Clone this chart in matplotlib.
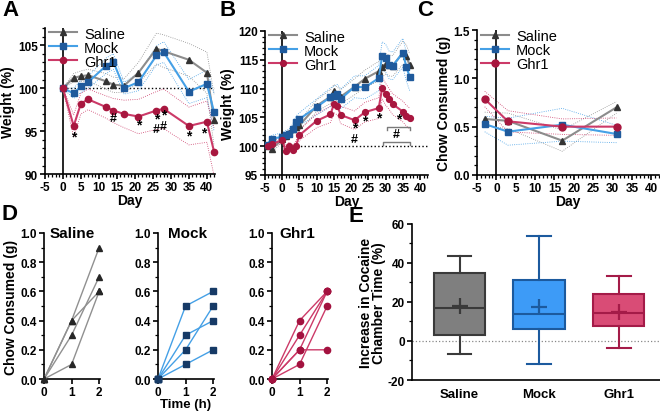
import numpy as np
import matplotlib.pyplot as plt
from matplotlib.ticker import MultipleLocator

plt.rcParams['font.family'] = ['Liberation Sans', 'DejaVu Sans']
plt.rcParams['font.weight'] = 'bold'
plt.rcParams['axes.labelweight'] = 'bold'
plt.rcParams['axes.unicode_minus'] = False
plt.rcParams['axes.linewidth'] = 1.2
plt.rcParams['xtick.major.width'] = 1.2
plt.rcParams['ytick.major.width'] = 1.2
plt.rcParams['xtick.minor.width'] = 0.9
plt.rcParams['ytick.minor.width'] = 0.9
plt.rcParams['xtick.major.size'] = 3.5
plt.rcParams['ytick.major.size'] = 3.5
plt.rcParams['xtick.minor.size'] = 2
plt.rcParams['ytick.minor.size'] = 2
plt.rcParams['xtick.labelsize'] = 8.5
plt.rcParams['ytick.labelsize'] = 8.5
plt.rcParams['xtick.major.pad'] = 1.5
plt.rcParams['ytick.major.pad'] = 1.5

# ======================================
# Data
# ======================================
groups = ['Saline', 'Mock', 'Ghr1']

# panel A: weight, first cohort
a_days = [0, 3, 5, 7, 12, 14, 17, 21, 26, 28, 35, 40, 42]
a_saline = [100, 101.2, 101.4, 101.5, 100.8, 100.4, 100.3, 101.8, 104.6, 104.3, 103.3, 101.8, 96.3]
a_mock = [100, 99.4, 100.2, 100.7, 102.6, 103.1, 100.0, 100.7, 103.8, 104.2, 99.6, 100.5, 97.2]
a_ghr1 = [100, 95.6, 98.2, 98.7, 97.8, 97.4, 97.0, 96.7, 97.4, 97.6, 95.6, 96.1, 92.6]
a_saline_sem = [0, 0.5, 0.6, 0.7, 0.9, 0.9, 0.8, 1.2, 1.8, 1.9, 1.9, 2.4, 3.0]
a_mock_sem = [0, 0.6, 0.7, 0.7, 0.9, 0.9, 0.7, 1.0, 1.1, 1.2, 1.4, 1.6, 2.2]
a_ghr1_sem = [0, 1.3, 1.2, 1.2, 1.3, 1.4, 1.6, 2.0, 2.2, 2.3, 2.2, 2.4, 2.8]
# significance marks: (day, weight, symbol)
a_marks = [(3, 94.4, '*'), (14, 96.5, '#'), (21, 95.8, '*'), (26, 96.5, '*'), (26, 95.3, '#'),
           (28, 96.9, '*'), (28, 95.6, '#'), (35, 94.5, '*'), (39, 94.9, '*')]

# panel B: weight, second cohort
b_days = [-4, -3, 0, 1, 2, 3, 4, 5, 10, 14, 15, 16, 17, 21, 24, 28, 29, 30, 31, 32, 35, 36, 37]
b_saline = [100.0, 99.5, 101.2, 101.8, 102.3, 102.9, 103.4, 103.6, 107.0, 108.6, 109.5, 109.0, 108.6,
            110.3, 111.7, 113.0, 113.8, 114.3, 114.0, 113.9, 116.2, 115.6, 114.0]
b_mock = [100.2, 101.3, 101.6, 101.9, 102.1, 102.9, 104.2, 104.7, 106.8, 108.5, 108.7, 109.0, 108.2,
          110.3, 110.2, 111.8, 115.7, 115.3, 114.1, 113.9, 116.2, 113.8, 112.0]
b_ghr1 = [100.0, 100.3, 101.1, 99.2, 100.0, 99.4, 100.1, 101.9, 104.4, 105.5, 107.3, 106.9, 105.4,
          104.5, 105.9, 106.6, 110.1, 109.0, 108.2, 107.3, 106.0, 105.3, 104.8]
b_saline_sem = [0.4, 0.5, 0.6, 0.6, 0.6, 0.7, 0.7, 0.8, 1.0, 1.2, 1.2, 1.2, 1.2,
                1.4, 1.5, 1.7, 1.8, 1.8, 1.8, 1.8, 2.0, 2.0, 2.0]
b_mock_sem = [0.5, 0.6, 0.7, 0.8, 0.8, 0.9, 1.0, 1.1, 1.4, 1.6, 1.7, 1.7, 1.7,
              1.9, 2.0, 2.2, 2.4, 2.4, 2.4, 2.4, 2.5, 2.5, 2.4]
b_ghr1_sem = [0.4, 0.5, 0.6, 0.7, 0.7, 0.7, 0.8, 0.9, 1.2, 1.4, 1.5, 1.5, 1.5,
              1.6, 1.7, 1.8, 1.9, 1.9, 1.8, 1.8, 1.8, 1.8, 1.8]
b_marks = [(21, 103.3, '*'), (21, 101.3, '#'), (24, 104.4, '*'), (28, 105.0, '*')]
b_bar_star = (30.5, 37, 103.3)
b_bar_hash = (29.2, 37, 100.7)

# panel C: chow consumed
c_days = [-3, 3, 17, 31]
c_saline = [0.58, 0.56, 0.355, 0.70]
c_mock = [0.527, 0.448, 0.52, 0.424]
c_ghr1 = [0.786, 0.555, 0.50, 0.50]
c_saline_sem = [0.07, 0.08, 0.11, 0.06]
c_mock_sem = [0.08, 0.14, 0.17, 0.09]
c_ghr1_sem = [0.08, 0.11, 0.08, 0.09]

# panel D: individual chow intake over 2 h
d_times = [0, 1, 2]
d_saline = [[0, 0.4, 0.9], [0, 0.4, 0.6], [0, 0.3, 0.7], [0, 0.1, 0.6]]
d_mock = [[0, 0.5, 0.6], [0, 0.3, 0.4], [0, 0.2, 0.5], [0, 0.1, 0.2]]
d_ghr1 = [[0, 0.4, 0.6], [0, 0.3, 0.6], [0, 0.2, 0.6], [0, 0.2, 0.2], [0, 0.1, 0.5]]

# panel E: box summaries (whislo, q1, med, q3, whishi, mean)
e_whislo = [-6.7, -11.6, -3.4]
e_q1 = [3.1, 6.1, 7.7]
e_med = [16.8, 13.7, 14.2]
e_q3 = [34.9, 31.1, 24.0]
e_whishi = [43.4, 53.7, 33.2]
e_mean = [18.1, 17.4, 15.0]

# ======================================
# Styles
# ======================================
line_col = {'Saline': '#8c8c8c', 'Mock': '#45a0e6', 'Ghr1': '#cc3a68'}
mark_col = {'Saline': '#333333', 'Mock': '#1f5a9c', 'Ghr1': '#a8173f'}
marker = {'Saline': '^', 'Mock': 's', 'Ghr1': 'o'}
box_fill = {'Saline': '#7f7f7f', 'Mock': '#3d9bf7', 'Ghr1': '#d94c76'}
box_edge = {'Saline': '#3a3a3a', 'Mock': '#1c5a9e', 'Ghr1': '#a41b48'}

fig = plt.figure(figsize=(6.6, 4.14), dpi=100)


def style(ax):
    ax.spines['top'].set_visible(False)
    ax.spines['right'].set_visible(False)
    for lab in ax.get_xticklabels() + ax.get_yticklabels():
        lab.set_fontweight('bold')


def timecourse(ax, days, series, sems, msize=4.5):
    for g, y, s in zip(groups, series, sems):
        y = np.array(y)
        s = np.array(s)
        ax.plot(days, y + s, ls=':', lw=0.6, color=line_col[g], zorder=1)
        ax.plot(days, y - s, ls=':', lw=0.6, color=line_col[g], zorder=1)
    for g, y in zip(groups, series):
        ax.plot(days, y, color=line_col[g], lw=1.5, marker=marker[g], ms=msize,
                mfc=mark_col[g], mec=mark_col[g], label=g, zorder=3, clip_on=False)
    ax.axvline(0, color='black', lw=1.2, zorder=2)
    ax.legend(loc='upper left', bbox_to_anchor=(-0.01, 1.05), frameon=False, fontsize=10.5,
              handlelength=1.9, handletextpad=0.5, labelspacing=0.0, borderaxespad=0)
    for t in ax.get_legend().get_texts():
        t.set_fontweight('normal')
    ax.set_xlabel('Day', fontsize=10, labelpad=0)
    ax.xaxis.set_major_locator(MultipleLocator(5))
    ax.xaxis.set_minor_locator(MultipleLocator(1))
    style(ax)


# ---- A
axA = fig.add_axes([0.068, 0.577, 0.258, 0.353])
timecourse(axA, a_days, [a_saline, a_mock, a_ghr1], [a_saline_sem, a_mock_sem, a_ghr1_sem])
axA.plot([0, 42], [100, 100], ls=':', color='black', lw=1.0, zorder=0)
axA.set_xlim(-5, 42.3)
axA.set_ylim(90, 107)
axA.yaxis.set_major_locator(MultipleLocator(5))
axA.yaxis.set_minor_locator(MultipleLocator(1))
axA.set_ylabel('Weight (%)', fontsize=10, labelpad=2)
for d, w, sym in a_marks:
    axA.text(d, w, sym, ha='center', va='center', fontsize=10 if sym == '*' else 9)

# ---- B
axB = fig.add_axes([0.4015, 0.575, 0.247, 0.348])
timecourse(axB, b_days, [b_saline, b_mock, b_ghr1], [b_saline_sem, b_mock_sem, b_ghr1_sem], msize=4.2)
axB.plot([0, 42.3], [100, 100], ls=':', color='black', lw=1.0, zorder=0)
axB.set_xlim(-5, 42.3)
axB.set_ylim(95, 120)
axB.yaxis.set_major_locator(MultipleLocator(5))
axB.yaxis.set_minor_locator(MultipleLocator(1))
axB.set_ylabel('Weight (%)', fontsize=10, labelpad=2)
for d, w, sym in b_marks:
    axB.text(d, w, sym, ha='center', va='center', fontsize=10 if sym == '*' else 9)
for (x0, x1, yb), sym in [(b_bar_star, '*'), (b_bar_hash, '#')]:
    axB.plot([x0, x0, x1, x1], [yb - 0.5, yb, yb, yb - 0.5], color='#7a7a7a', lw=1.0)
    axB.text((x0 + x1) / 2, yb + 0.3, sym, ha='center', va='bottom', fontsize=10 if sym == '*' else 9)

# ---- C
axC = fig.add_axes([0.7227, 0.575, 0.276, 0.35])
timecourse(axC, c_days, [c_saline, c_mock, c_ghr1], [c_saline_sem, c_mock_sem, c_ghr1_sem], msize=5)
axC.set_xlim(-5, 42)
axC.set_ylim(0, 1.5)
axC.yaxis.set_major_locator(MultipleLocator(0.5))
axC.yaxis.set_minor_locator(MultipleLocator(0.1))
axC.yaxis.set_major_formatter(plt.FormatStrFormatter('%.1f'))
axC.set_ylabel('Chow Consumed (g)', fontsize=10, labelpad=2)

# ---- D
d_sets = [d_saline, d_mock, d_ghr1]
d_left = [0.0667, 0.2394, 0.4121]
d_title_x = [0.5, 0.52, 0.46]
for i, g in enumerate(groups):
    ax = fig.add_axes([d_left[i], 0.0821, 0.0848, 0.3527])
    dline = '#909090' if g == 'Saline' else line_col[g]
    dmark = '#262626' if g == 'Saline' else ('#163a66' if g == 'Mock' else '#a3123f')
    for animal in d_sets[i]:
        ax.plot(d_times, animal, color=dline, lw=1.0, marker=marker[g], ms=4.5,
                mfc=dmark, mec=dmark, clip_on=False, zorder=3)
    ax.set_xlim(0, 2.03)
    ax.set_ylim(0, 1.0)
    ax.set_xticks([0, 1, 2])
    ax.yaxis.set_major_locator(MultipleLocator(0.2))
    ax.yaxis.set_minor_locator(MultipleLocator(0.1))
    ax.yaxis.set_major_formatter(plt.FormatStrFormatter('%.1f'))
    ax.text(d_title_x[i], 1.0, g, transform=ax.transAxes, ha='center', va='center',
            fontsize=11, fontweight='bold')
    if i == 0:
        ax.set_ylabel('Chow Consumed (g)', fontsize=10, labelpad=2)
    if i == 1:
        ax.set_xlabel('Time (h)', fontsize=9.5, labelpad=0)
    style(ax)

# ---- E
axE = fig.add_axes([0.624, 0.0797, 0.376, 0.377])
stats = []
for i, g in enumerate(groups):
    stats.append({'label': g, 'whislo': e_whislo[i], 'q1': e_q1[i], 'med': e_med[i],
                  'q3': e_q3[i], 'whishi': e_whishi[i], 'mean': e_mean[i]})
axE.axhline(0, color='#888888', ls=':', lw=0.9, zorder=0)
bp = axE.bxp(stats, positions=[0, 1, 2], widths=0.65, showmeans=False, patch_artist=True,
             showfliers=False, capwidths=0.3)
for i, g in enumerate(groups):
    bp['boxes'][i].set_facecolor(box_fill[g])
    bp['boxes'][i].set_edgecolor(box_edge[g])
    bp['boxes'][i].set_linewidth(1.5)
    bp['medians'][i].set_color(box_edge[g])
    bp['medians'][i].set_linewidth(1.5)
    for k in (2 * i, 2 * i + 1):
        bp['whiskers'][k].set_color(box_edge[g])
        bp['whiskers'][k].set_linewidth(1.5)
        bp['caps'][k].set_color(box_edge[g])
        bp['caps'][k].set_linewidth(1.5)
    axE.plot(i, e_mean[i], marker='+', ms=11, mew=1.6, color=box_edge[g], zorder=4)
axE.set_xlim(-0.6, 2.52)
axE.set_ylim(-20, 60)
axE.yaxis.set_major_locator(MultipleLocator(20))
axE.yaxis.set_minor_locator(MultipleLocator(10))
axE.set_xticks([0, 1, 2])
axE.set_xticklabels(groups, fontsize=9.5, fontweight='bold')
axE.tick_params(axis='x', length=0, pad=6)
axE.set_ylabel('Increase in Cocaine\nChamber Time (%)', fontsize=10, labelpad=1, linespacing=0.95)
style(axE)

# panel letters
for letter, x, y in [('A', 0.003, 0.975), ('B', 0.333, 0.975), ('C', 0.632, 0.975),
                     ('D', 0.003, 0.482), ('E', 0.528, 0.478)]:
    fig.text(x, y, letter, fontsize=16, fontweight='bold', va='center', ha='left')

fig.savefig('out.png', dpi=100)
